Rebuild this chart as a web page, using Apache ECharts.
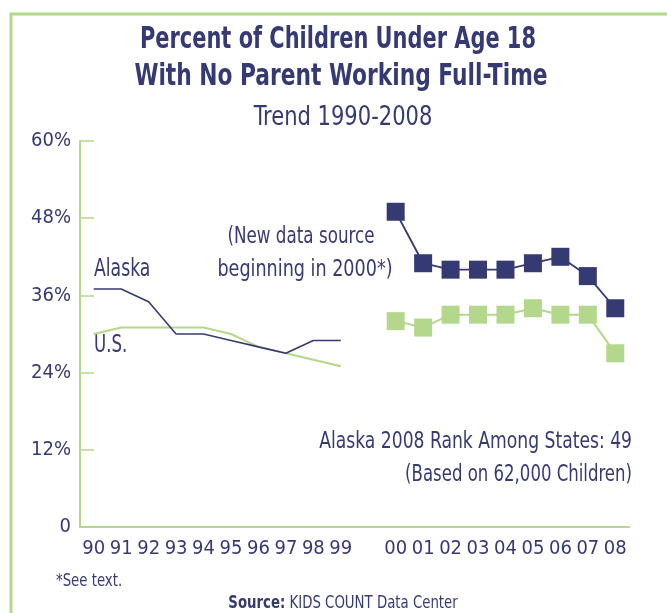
<!DOCTYPE html>
<html>
<head>
<meta charset="utf-8">
<script src="https://cdn.jsdelivr.net/npm/echarts@6/dist/echarts.min.js"></script>
<style>
html,body{margin:0;padding:0;background:#fff;}
#chart{width:667px;height:613px;}
</style>
</head>
<body>
<div id="chart"></div>
<script>
const categories = ['90','91','92','93','94','95','96','97','98','99','','00','01','02','03','04','05','06','07','08'];
const alaska = [37,37,35,30,30,29,28,27,29,29,null,49,41,40,40,40,41,42,39,34];
const us = [30,31,31,31,31,30,28,27,26,25,null,32,31,33,33,33,34,33,33,27];
const yTicks = [0,12,24,36,48,60];

const NAVY = '#363a73';
const GREEN = '#b4d88b';
const FONT = '"Liberation Sans Narrow","DejaVu Sans Condensed",sans-serif';

function part(arr, from, to) {
  return arr.map((v, i) => (i >= from && i <= to ? v : null));
}

function label(text, x, y, size, sx, align, weight, extra) {
  const style = Object.assign({text: text, fontFamily: FONT, fontSize: size, fontWeight: weight || 'normal',
    fill: NAVY, textAlign: align, textVerticalAlign: 'middle'}, extra || {});
  return {type: 'text', x: x, y: y, scaleX: sx, style: style};
}

const chart = echarts.init(document.getElementById('chart'));
chart.setOption({
  animation: false,
  backgroundColor: '#fff',
  grid: {left: 80, right: 38, top: 141, bottom: 86, containLabel: false},
  xAxis: {
    type: 'category',
    data: categories,
    boundaryGap: true,
    axisLine: {lineStyle: {color: GREEN, width: 2}},
    axisTick: {inside: true, length: 10, interval: 0, lineStyle: {color: GREEN, width: 1.5}},
    axisLabel: {interval: 0, color: NAVY, fontFamily: FONT, fontSize: 20, margin: 12}
  },
  yAxis: {
    type: 'value',
    min: yTicks[0], max: yTicks[yTicks.length - 1], interval: 12,
    splitLine: {show: false},
    axisLine: {show: true, lineStyle: {color: GREEN, width: 2}},
    axisTick: {show: true, inside: true, length: 14, lineStyle: {color: GREEN, width: 1.5}},
    axisLabel: {color: NAVY, fontFamily: FONT, fontSize: 20, margin: 9,
      formatter: v => (v === 0 ? '0' : v + '%')}
  },
  series: [
    {type: 'line', data: part(us, 0, 9), symbol: 'none', lineStyle: {color: GREEN, width: 2}, z: 2},
    {type: 'line', data: part(alaska, 0, 9), symbol: 'none', lineStyle: {color: NAVY, width: 1.6}, z: 3},
    {type: 'line', data: part(us, 11, 19), symbol: 'rect', symbolSize: 18, itemStyle: {color: GREEN}, lineStyle: {color: GREEN, width: 2}, z: 2},
    {type: 'line', data: part(alaska, 11, 19), symbol: 'rect', symbolSize: 18, itemStyle: {color: NAVY}, lineStyle: {color: NAVY, width: 1.8}, z: 3}
  ],
  graphic: [
    {type: 'polyline', shape: {points: [[11, 640], [11, 14], [700, 14]]}, style: {stroke: GREEN, lineWidth: 3, fill: null}},
    label('Percent of Children Under Age 18', 338, 40, 31, 0.75, 'center', 'bold'),
    label('With No Parent Working Full-Time', 341, 77, 31, 0.78, 'center', 'bold'),
    label('Trend 1990-2008', 343, 118, 26, 0.9, 'center'),
    label('Alaska', 94, 270, 24, 0.8, 'left'),
    label('U.S.', 94, 346, 24, 0.77, 'left'),
    label('(New data source', 301, 237, 23, 0.81, 'center'),
    label('beginning in 2000*)', 305, 270, 23, 0.85, 'center'),
    label('Alaska 2008 Rank Among States: 49', 632, 442, 23, 0.83, 'right'),
    label('(Based on 62,000 Children)', 632, 475, 23, 0.8, 'right'),
    label('*See text.', 56, 582, 17, 0.87, 'left'),
    label('{b|Source:} KIDS COUNT Data Center', 343, 604, 17, 0.87, 'center', 'normal',
      {rich: {b: {fontFamily: FONT, fontSize: 17, fontWeight: 'bold', fill: NAVY}}})
  ]
});
</script>
</body>
</html>
